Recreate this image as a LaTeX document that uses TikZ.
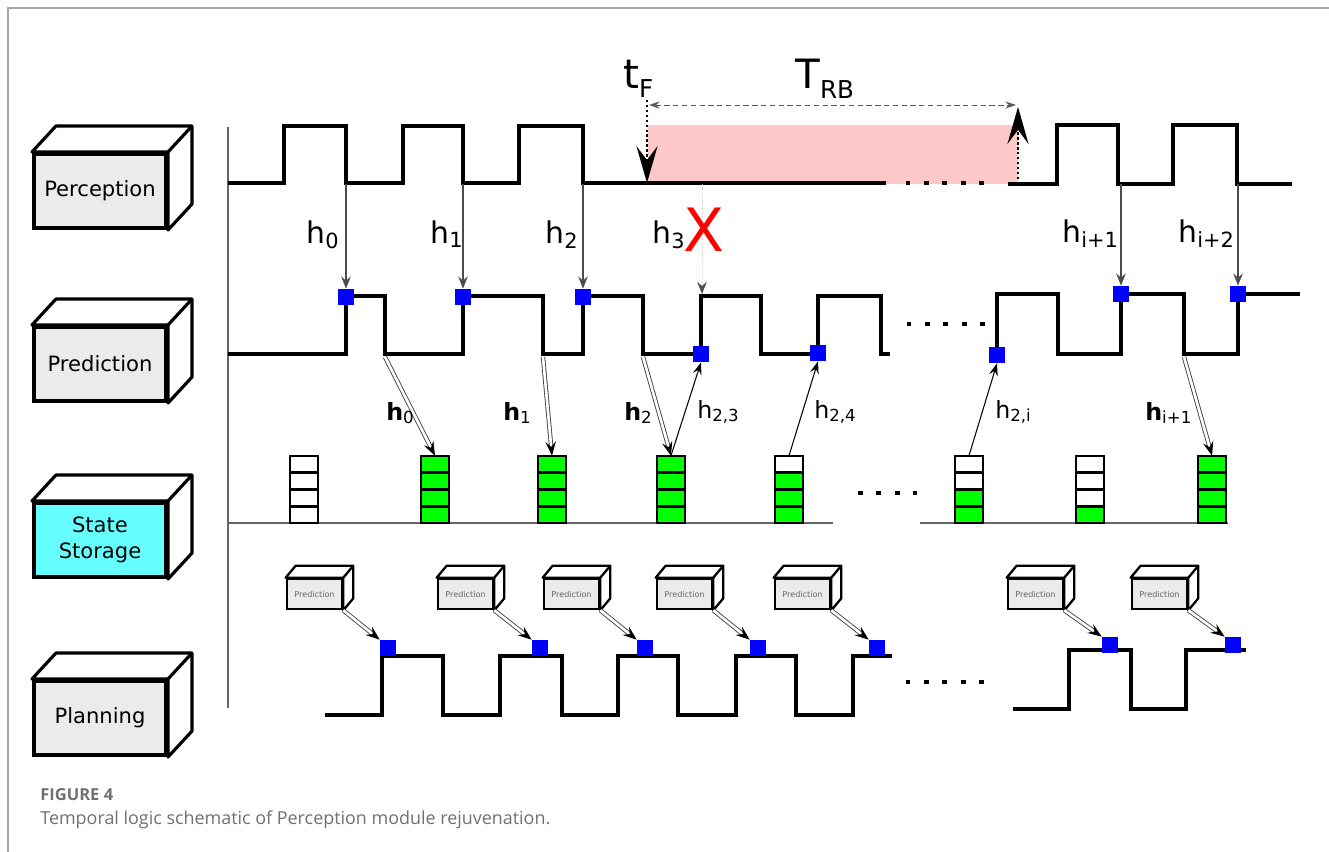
\documentclass[tikz,border=0pt]{standalone}
\usepackage{fontspec}
\setmainfont{DejaVu Sans}
\newfontfamily\capfont{Open Sans}
\usepackage{tikz}
\usetikzlibrary{arrows.meta, backgrounds, positioning}

\definecolor{boxgray}{HTML}{EBEBEB}
\definecolor{stocyan}{HTML}{66FFFF}
\definecolor{cellgreen}{HTML}{00FF00}
\definecolor{gappink}{HTML}{FFC8C8}
\definecolor{capgray}{HTML}{707070}

\def\px{0.02cm}

% top and side faces of a box drawn behind its front node
\newcommand\boxfaces[4]{%
  \draw[line width=#4, fill=white, line join=round]
    (#1.north west) -- ++(#2,-#3) -- ([shift={(#2,-#3)}]#1.north east)
    -- ([shift={(#2,-#3)}]#1.south east) -- (#1.south east) -- (#1.north east) -- cycle;
  \draw[line width=#4] (#1.north east) -- ++(#2,-#3);
}
% module box: name, y, fill, text
\newcommand\module[4]{%
  \node[modfront, fill=#3] (#1) at (100,#2) {#4};
  \begin{scope}[on background layer]\boxfaces{#1}{24}{26}{1.8pt}\end{scope}
}
% small prediction box: name, left x
\newcommand\minimod[2]{%
  \node[minifront] (#1) at (#2+27.5,594) {Prediction};
  \begin{scope}[on background layer]\boxfaces{#1}{10}{12}{1.3pt}\end{scope}
}
% state stack: name, x centre, filled cells
\newcommand\stbox[3]{%
  \foreach \k in {1,...,4}{%
    \ifnum\k>#3 \def\cc{white}\else\def\cc{cellgreen}\fi
    \draw[cell, fill=\cc] (#2-14,523-16.75*\k) rectangle ++(28,16.75);
  }
  \node[inner sep=0pt, minimum width=28*\px, minimum height=67*\px] (#1) at (#2,489.5) {};
}

\tikzset{
  modfront/.style={draw, line width=2.3pt, minimum width=132*\px, minimum height=74*\px,
    inner sep=0pt, align=center, font=\fontsize{12}{14.5}\selectfont},
  minifront/.style={draw, line width=1.5pt, fill=boxgray, minimum width=55*\px, minimum height=30*\px,
    inner sep=0pt, text=black!60, font=\fontsize{4.6}{5}\selectfont},
  cell/.style={draw, line width=1.6pt},
}

\begin{document}
\begin{tikzpicture}[x=\px, y=-\px,
  wave/.style={line width=2.6pt},
  dotrow/.style={line width=2.8pt, dash pattern=on 2.8pt off 7.7pt},
  bsq/.style={fill=blue, minimum size=16*\px, inner sep=0pt},
  feed/.style={gray!60!black, line width=0.6pt, -{Stealth[length=7pt, width=5.5pt, inset=2.5pt]}},
  recall/.style={black, line width=0.6pt, -{Stealth[length=7pt, width=5pt, inset=2.5pt]}},
  store/.style={draw=black!75, line width=0.5pt, double=white, double distance=1.5pt,
    -{Stealth[length=8pt, width=6pt, inset=3pt, color=black]}},
  bigtip/.style={line width=1.2pt, dash pattern=on 1.4pt off 1.4pt, -{Stealth[length=21pt, width=12pt, inset=8pt]}},
  lbl/.style={font=\fontsize{17}{17}\selectfont, anchor=base west, inner sep=0pt},
  slbl/.style={font=\fontsize{13.5}{13.5}\selectfont, anchor=base west, inner sep=0pt}]

\useasboundingbox (0,0) rectangle (1329,852);
% frame
\draw[gray!70, line width=1.2pt] (8,852) -- (8,8) -- (1329,8);

% modules on the left
\module{per}{191}{boxgray}{Perception}
\module{pre}{364}{boxgray}{Prediction}
\module{sto}{540}{stocyan}{State\\Storage}
\module{pla}{718}{boxgray}{Planning}

% time axis and storage floor
\draw[gray!80!black, line width=0.8pt] (228,127) -- (228,708);
\draw[gray!80!black, line width=0.8pt] (228,523) -- (833,523);
\draw[gray!80!black, line width=0.8pt] (920,523) -- (1228,523);

% perception outage
\fill[gappink] (648,125) rectangle (1018,184);

% Perception signal
\draw[wave] (228,183) -- (284,183) -- (284,126) -- (346,126) -- (346,183) -- (403,183) -- (403,126)
  -- (463,126) -- (463,183) -- (519,183) -- (519,126) -- (583,126) -- (583,183) -- (886,183);
\draw[dotrow] (905.5,183) -- (985,183);
\draw[wave] (1008,184) -- (1057,184) -- (1057,125) -- (1118,125) -- (1118,184) -- (1173,184)
  -- (1173,125) -- (1237,125) -- (1237,184) -- (1292,184);

% Prediction signal
\draw[wave] (228,354) -- (346,354) -- (346,296) -- (385,296) -- (385,354) -- (463,354) -- (463,296)
  -- (543,296) -- (543,354) -- (583,354) -- (583,296) -- (643,296) -- (643,354) -- (701,354)
  -- (701,296) -- (761,296) -- (761,354) -- (818,354) -- (818,296) -- (881,296) -- (881,354) -- (890,354);
\draw[dotrow] (906.5,324) -- (986,324);
\draw[wave] (997,354) -- (997,294) -- (1058,294) -- (1058,354) -- (1121,354) -- (1121,294) -- (1184,294)
  -- (1184,354) -- (1238,354) -- (1238,294) -- (1300,294);

% Planning signal
\draw[wave] (325,715) -- (382,715) -- (382,656) -- (443,656) -- (443,715) -- (500,715) -- (500,656)
  -- (562,656) -- (562,715) -- (618,715) -- (618,656) -- (678,656) -- (678,715) -- (736,715)
  -- (736,656) -- (796,656) -- (796,715) -- (853,715) -- (853,656) -- (892,656);
\draw[dotrow] (905.5,682) -- (985,682);
\draw[wave] (1013,709) -- (1069,709) -- (1069,650) -- (1131,650) -- (1131,709) -- (1186,709)
  -- (1186,650) -- (1246,650);

% failure time and rejuvenation span
\coordinate (tftop) at (647,100);
\coordinate (tf) at (647,183);
\coordinate (rbbot) at (1018,184);
\coordinate (rbtop) at (1018,107);
\coordinate (rbl) at (649,105);
\coordinate (rbr) at (1016,105);
\draw[bigtip] (tftop) -- (tf);
\draw[bigtip] (rbbot) -- (rbtop);
\draw[gray!70!black, line width=0.5pt, dash pattern=on 3pt off 2pt,
  {Stealth[length=6pt, width=4pt, inset=2pt]}-{Stealth[length=6pt, width=4pt, inset=2pt]}] (rbl) -- (rbr);
\node[anchor=base west, inner sep=0pt, font=\fontsize{23}{23}\selectfont] (tF) at (623,88)
  {t\raisebox{-5.5pt}{\fontsize{14}{14}\selectfont F}};
\node[anchor=base west, inner sep=0pt, font=\fontsize{23}{23}\selectfont] (TRB) at (795,88)
  {T\raisebox{-6pt}{\fontsize{14}{14}\selectfont RB}};

% blue update marks, prediction
\foreach \i/\sx/\sy in {0/346/297, 1/463/297, 2/583/297, 3/701/354, 4/818/353, 5/997/355, 6/1121/294, 7/1238/294}
  \node[bsq] (pq\i) at (\sx,\sy) {};

% perception outputs
\foreach \i/\ex in {0/346, 1/463, 2/583, 4/1121, 5/1238}
  \coordinate (pe\i) at (\ex,184);
\coordinate (pe3) at (702,184);
\coordinate (pr3) at (702,294);
\draw[feed] (pe0) -- (pq0.north);
\draw[feed] (pe1) -- (pq1.north);
\draw[feed] (pe2) -- (pq2.north);
\draw[gray!40, line width=0.5pt, dash pattern=on 0.6pt off 0.9pt,
  -{Stealth[length=7pt, width=5.5pt, inset=2.5pt, color=gray!60!black]}] (pe3) -- (pr3);
\draw[feed] (pe4) -- (pq6.north);
\draw[feed] (pe5) -- (pq7.north);
\node[lbl] (lh0) at (306,243) {h\textsubscript{0}};
\node[lbl] (lh1) at (430,243) {h\textsubscript{1}};
\node[lbl] (lh2) at (545,243) {h\textsubscript{2}};
\node[lbl] (lh3) at (652,243) {h\textsubscript{3}};
\node[text=red, inner sep=0pt, font=\fontsize{34}{34}\selectfont] (cut) at (704,230) {X};
\node[lbl] (lh4) at (1062,242) {h\textsubscript{i+1}};
\node[lbl] (lh5) at (1178,242) {h\textsubscript{i+2}};

% state storage stacks
\stbox{st0}{304}{0}
\stbox{st1}{435}{4}
\stbox{st2}{552}{4}
\stbox{st3}{671}{4}
\stbox{st4}{789}{3}
\stbox{st5}{969}{2}
\stbox{st6}{1090}{1}
\stbox{st7}{1212}{4}
\draw[dotrow] (858,493) -- (917,493);

% saving and restoring states
\coordinate (pf0) at (385,357);
\coordinate (pf1) at (543,357);
\coordinate (pf2) at (643,357);
\coordinate (pf3) at (1184,357);
\draw[store] (pf0) -- (st1.north);
\draw[store] (pf1) -- (st2.north);
\draw[store] (pf2) -- (st3.north);
\draw[store] (pf3) -- (st7.north);
\draw[recall] (st3.north) -- (pq3.south);
\draw[recall] (st4.north) -- (pq4.south);
\draw[recall] (st5.north) -- (pq5.south);
\node[slbl] (bh0) at (386,420) {\textbf{h}\textsubscript{0}};
\node[slbl] (bh1) at (503,420) {\textbf{h}\textsubscript{1}};
\node[slbl] (bh2) at (624,420) {\textbf{h}\textsubscript{2}};
\node[slbl] (bh3) at (1145,420) {\textbf{h}\textsubscript{i+1}};
\node[slbl] (rh3) at (697,418) {h\textsubscript{2,3}};
\node[slbl] (rh4) at (814,418) {h\textsubscript{2,4}};
\node[slbl] (rh5) at (995,418) {h\textsubscript{2,i}};

% planning requests
\foreach \i/\bx/\sx/\sy in {1/287/388/648, 2/438/540/648, 3/544/645/648, 4/657/758/648,
    5/775/877/648, 6/1008/1110/645, 7/1132/1233/645} {
  \minimod{mb\i}{\bx}
  \node[bsq] (lq\i) at (\sx,\sy) {};
  \draw[store] (mb\i.south east) -- (lq\i.north west);
}

% caption
\node[anchor=base west, inner sep=0pt, text=capgray, font=\capfont\bfseries\fontsize{9.4}{10}\selectfont] (fig) at (40,800) {FIGURE 4};
\node[anchor=base west, inner sep=0pt, text=capgray, font=\capfont\fontsize{10.2}{11}\selectfont] (cap) at (40,824)
  {Temporal logic schematic of Perception module rejuvenation.};
\end{tikzpicture}
\end{document}
